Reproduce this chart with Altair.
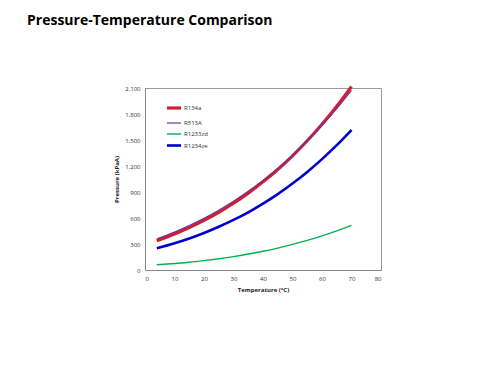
import altair as alt
import pandas as pd

temps = [4, 10, 15, 20, 25, 30, 35, 40, 45, 50, 55, 60, 65, 70]
r134a = [338, 415, 489, 572, 666, 770, 887, 1017, 1160, 1318, 1491, 1682, 1890, 2117]
r513a = [360, 437, 512, 596, 690, 793, 908, 1034, 1172, 1323, 1488, 1668, 1862, 2073]
r1233zd = [60, 75, 89, 108, 130, 155, 184, 216, 253, 295, 341, 393, 451, 515]
r1234ze = [251, 308, 363, 427, 499, 578, 666, 766, 876, 998, 1132, 1279, 1440, 1616]

series_names = ["R134a", "R513A", "R1233zd", "R1234ze"]
series_colors = ["#d0202e", "#7030a0", "#00b050", "#0000cc"]
series_widths = [3.2, 1.2, 1.4, 2.6]

rows = []
for name, vals in zip(series_names, [r134a, r513a, r1233zd, r1234ze]):
    for t, p in zip(temps, vals):
        rows.append({"series": name, "T": t, "P": p, "order": series_names.index(name)})
df = pd.DataFrame(rows)

leg = dict(title=None, orient="none", legendX=20, legendY=11,
           symbolType="stroke", symbolSize=200,
           labelFontSize=6, labelFont="Open Sans",
           labelColor="#333", rowPadding=-2.5, labelOffset=1)

base = alt.Chart(df).mark_line(interpolate="monotone").encode(
    x=alt.X("T:Q", title="Temperature (°C)",
            scale=alt.Scale(domain=[0, 80], nice=False),
            axis=alt.Axis(values=list(range(0, 81, 10)))),
    y=alt.Y("P:Q", title="Pressure (kPaA)",
            scale=alt.Scale(domain=[0, 2100], nice=False),
            axis=alt.Axis(values=list(range(0, 2101, 300)), format=",.0f")),
    color=alt.Color("series:N", scale=alt.Scale(domain=series_names, range=series_colors),
                    legend=alt.Legend(**leg)),
    strokeWidth=alt.StrokeWidth("series:N",
                                scale=alt.Scale(type="ordinal", domain=series_names, range=series_widths),
                                legend=alt.Legend(**leg)),
    detail="series:N",
    order="order:Q",
)

chart = base.properties(
    width=236, height=182,
    title=alt.TitleParams("Pressure-Temperature Comparison", anchor="start", frame="group",
                          dx=-118, offset=52, font="Open Sans", fontSize=14,
                          fontWeight="bold", color="#000"),
    autosize=alt.AutoSizeParams(type="none"),
    padding={"left": 137, "top": 80, "right": 100, "bottom": 80},
).configure_view(
    stroke="#999", strokeWidth=1
).configure_axis(
    grid=False, domainColor="#888", ticks=False,
    labelFont="Open Sans", labelFontSize=6, labelColor="#333",
    titleFont="Open Sans", titleFontSize=6, titleFontWeight="bold", titleColor="#222",
    labelPadding=5, titlePadding=5
)

chart.save("out.html", embed_options={"renderer": "svg", "actions": False})
